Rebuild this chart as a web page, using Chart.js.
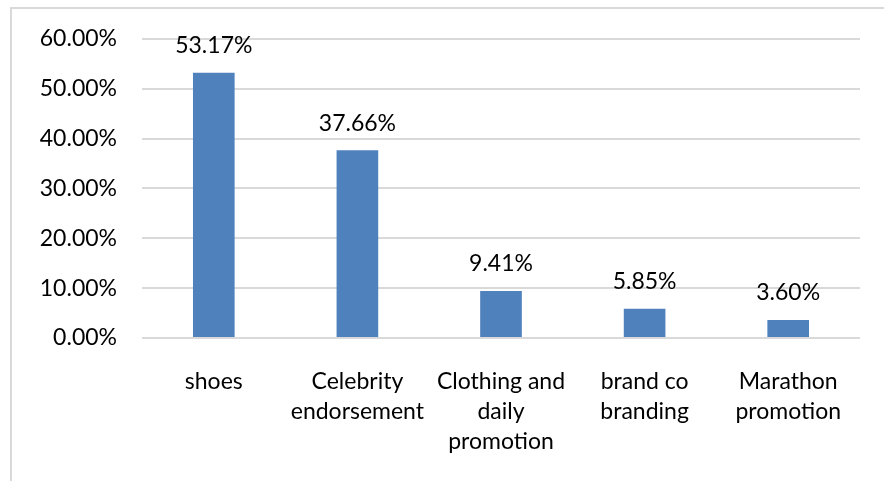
<!DOCTYPE html>
<html>
<head>
<meta charset="utf-8">
<script src="https://cdn.jsdelivr.net/npm/chart.js@4/dist/chart.umd.min.js"></script>
<style>
  body { margin: 0; background: #fff; }
  #frame { position: absolute; left: 10px; top: 7px; width: 900px; height: 500px;
           border-left: 2px solid #d9d9d9; border-top: 2px solid #d9d9d9; }
  #wrap { position: absolute; left: 0; top: 0; width: 884px; height: 481px; }
</style>
</head>
<body>
<div id="frame"></div>
<div id="wrap"><canvas id="shareBar" width="884" height="481"></canvas></div>
<script>
// ===================== categories / values =====================
var categories = [
  "shoes",
  ["Celebrity", "endorsement"],
  ["Clothing and", "daily", "promotion"],
  ["brand co", "branding"],
  ["Marathon", "promotion"]
];
var shares = [53.17, 37.66, 9.41, 5.85, 3.6]; // 百分比
var yTicks = [0, 10, 20, 30, 40, 50, 60];

var FONT = "Lato, 'Open Sans', sans-serif";

// 柱上數值
var valueLabels = {
  id: "valueLabels",
  afterDatasetsDraw: function (chart) {
    var ctx = chart.ctx;
    var meta = chart.getDatasetMeta(0);
    ctx.save();
    ctx.font = "23px " + FONT;
    ctx.fillStyle = "#000";
    ctx.textAlign = "center";
    ctx.textBaseline = "middle";
    meta.data.forEach(function (bar, i) {
      ctx.fillText(shares[i].toFixed(2) + "%", bar.x, bar.y - 27);
    });
    ctx.restore();
  }
};

var ctx = document.getElementById("shareBar").getContext("2d");
var shareBar = new Chart(ctx, {
  type: "bar",
  data: {
    labels: categories,
    datasets: [
      {
        data: shares,
        backgroundColor: "#4f81bd",
        borderWidth: 0,
        categoryPercentage: 1,
        barPercentage: 0.29
      }
    ]
  },
  options: {
    responsive: false,
    animation: false,
    layout: { padding: { top: 37, right: 24, left: 0, bottom: 0 } },
    plugins: {
      legend: { display: false },
      tooltip: { enabled: false }
    },
    scales: {
      x: {
        grid: { display: false },
        border: { display: false },
        ticks: {
          color: "#000",
          font: { family: FONT, size: 23, lineHeight: 1.3 },
          padding: 21,
          maxRotation: 0,
          autoSkip: false
        },
        afterFit: function (scale) { scale.height = 143; }
      },
      y: {
        min: 0,
        max: 60,
        afterBuildTicks: function (scale) {
          scale.ticks = yTicks.map(function (v) { return { value: v }; });
        },
        grid: { color: "#d9d9d9", lineWidth: 2, drawTicks: false },
        border: { display: false },
        ticks: {
          color: "#000",
          font: { family: FONT, size: 23 },
          padding: 25,
          callback: function (v) { return v.toFixed(2) + "%"; }
        },
        afterFit: function (scale) { scale.width = 142; }
      }
    }
  },
  plugins: [valueLabels]
});
</script>
</body>
</html>
